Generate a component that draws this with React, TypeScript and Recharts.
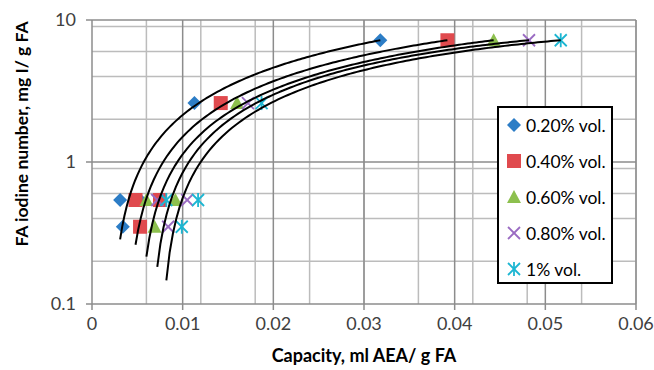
import React from 'react';
import { ScatterChart, Scatter, XAxis, YAxis, CartesianGrid } from 'recharts';

const FONT = 'Lato, "Noto Sans", sans-serif';

// iodine number of each fly ash sample, shared by all AEA doses
const iodineNumbers = [0.54, 0.54, 0.35, 2.6, 7.2];

// AEA capacity (ml AEA / g FA) of the same samples at each dose
const capacity020 = [0.0031, 0.0053, 0.0034, 0.0113, 0.0318];
const capacity040 = [0.0048, 0.0075, 0.0053, 0.0142, 0.0392];
const capacity060 = [0.006, 0.0092, 0.0069, 0.016, 0.0443];
const capacity080 = [0.0072, 0.0105, 0.0084, 0.0172, 0.0482];
const capacity100 = [0.0082, 0.0117, 0.0099, 0.0187, 0.0517];

const seriesNames = ['0.20% vol.', '0.40% vol.', '0.60% vol.', '0.80% vol.', '1% vol.'];
const seriesColors = ['#2C7DC6', '#E04A4E', '#8DC04E', '#9A6BC2', '#1CB6D2'];
const capacities = [capacity020, capacity040, capacity060, capacity080, capacity100];

const xTicks = [0, 0.01, 0.02, 0.03, 0.04, 0.05, 0.06];
const yTicks = [0.1, 1, 10];

// grid lines
const xMinorGrid = Array.from({ length: 30 }, (_, i) => +((i + 1) * 0.002).toFixed(3));
const xMajorGrid = [0.01, 0.02, 0.03, 0.04, 0.05, 0.06];
const yMinorGrid = [0.2, 0.3, 0.4, 0.5, 0.6, 0.7, 0.8, 0.9, 2, 3, 4, 5, 6, 7, 8, 9];
const yMajorGrid = [1, 10];

// least squares y = a + b*u + c*u^2 with u = x - mean(x)
function fitQuadratic(xs: number[], ys: number[]) {
  const n = xs.length;
  const mx = xs.reduce((s, v) => s + v, 0) / n;
  let s1 = 0, s2 = 0, s3 = 0, s4 = 0, t0 = 0, t1 = 0, t2 = 0;
  xs.forEach((x, i) => {
    const u = x - mx;
    s1 += u; s2 += u * u; s3 += u * u * u; s4 += u * u * u * u;
    t0 += ys[i]; t1 += u * ys[i]; t2 += u * u * ys[i];
  });
  const m = [
    [n, s1, s2],
    [s1, s2, s3],
    [s2, s3, s4],
  ];
  const det3 = (a: number[][]) =>
    a[0][0] * (a[1][1] * a[2][2] - a[1][2] * a[2][1]) -
    a[0][1] * (a[1][0] * a[2][2] - a[1][2] * a[2][0]) +
    a[0][2] * (a[1][0] * a[2][1] - a[1][1] * a[2][0]);
  const d = det3(m);
  const rhs = [t0, t1, t2];
  const col = (k: number) => m.map((row, r) => row.map((v, c) => (c === k ? rhs[r] : v)));
  const a = det3(col(0)) / d;
  const b = det3(col(1)) / d;
  const c = det3(col(2)) / d;
  return (x: number) => a + b * (x - mx) + c * (x - mx) * (x - mx);
}

const seriesData = capacities.map((xs) => xs.map((x, i) => ({ x, y: iodineNumbers[i] })));

const trendData = capacities.map((xs) => {
  const f = fitQuadratic(xs, iodineNumbers);
  const lo = Math.min(...xs);
  const hi = Math.max(...xs);
  const pts = [];
  for (let k = 0; k <= 120; k++) {
    const x = lo + ((hi - lo) * k) / 120;
    const y = f(x);
    if (y > 0.1) pts.push({ x, y });
  }
  return pts;
});

function Marker({ idx, cx, cy }: { idx: number; cx: number; cy: number }) {
  const color = seriesColors[idx];
  switch (idx) {
    case 0:
      return <polygon points={`${cx},${cy - 7} ${cx + 7},${cy} ${cx},${cy + 7} ${cx - 7},${cy}`} fill={color} />;
    case 1:
      return <rect x={cx - 7} y={cy - 7} width={14} height={14} fill={color} />;
    case 2:
      return <polygon points={`${cx},${cy - 7} ${cx + 7},${cy + 6} ${cx - 7},${cy + 6}`} fill={color} />;
    case 3:
      return (
        <g stroke={color} strokeWidth={1.8}>
          <line x1={cx - 6} y1={cy - 6} x2={cx + 6} y2={cy + 6} />
          <line x1={cx - 6} y1={cy + 6} x2={cx + 6} y2={cy - 6} />
        </g>
      );
    default:
      return (
        <g stroke={color} strokeWidth={1.8}>
          <line x1={cx - 6} y1={cy - 6} x2={cx + 6} y2={cy + 6} />
          <line x1={cx - 6} y1={cy + 6} x2={cx + 6} y2={cy - 6} />
          <line x1={cx} y1={cy - 7} x2={cx} y2={cy + 7} />
        </g>
      );
  }
}

function LegendBox() {
  return (
    <div
      style={{
        position: 'absolute',
        left: 497,
        top: 106,
        width: 112,
        height: 174,
        border: '2px solid #000',
        background: '#fff',
        fontFamily: FONT,
        fontSize: 17.5,
        color: '#000',
        boxSizing: 'content-box',
      }}
    >
      {seriesNames.map((name, i) => (
        <div key={name} style={{ position: 'absolute', left: 6, top: 6 + i * 36, height: 22, display: 'flex', alignItems: 'center' }}>
          <svg width={18} height={18} style={{ marginRight: 3 }}>
            <Marker idx={i} cx={9} cy={9} />
          </svg>
          <span>{name}</span>
        </div>
      ))}
    </div>
  );
}

export default function App() {
  const tickStyle = { fill: '#404040', fontSize: 18, fontFamily: FONT };
  return (
    <div style={{ position: 'absolute', left: 0, top: 0, width: 654, height: 370, background: '#fff' }}>
      <ScatterChart width={654} height={370} margin={{ top: 20, right: 18, bottom: 0, left: 0 }}>
        <CartesianGrid horizontalValues={yMinorGrid} verticalValues={xMinorGrid} stroke="#bcbcbc" strokeWidth={1.5} />
        <CartesianGrid horizontalValues={yMajorGrid} verticalValues={xMajorGrid} stroke="#8c8c8c" strokeWidth={1.5} />
        <XAxis
          type="number"
          dataKey="x"
          domain={[0, 0.06]}
          ticks={xTicks}
          tickFormatter={(v) => String(v)}
          height={66}
          tickSize={6}
          tickMargin={7}
          tick={tickStyle}
          axisLine={{ stroke: '#8c8c8c', strokeWidth: 1.5 }}
          tickLine={{ stroke: '#8c8c8c', strokeWidth: 1.5 }}
          allowDataOverflow
        />
        <YAxis
          type="number"
          dataKey="y"
          scale="log"
          domain={[0.1, 10]}
          ticks={yTicks}
          tickFormatter={(v) => String(v)}
          width={92}
          tickSize={6}
          tickMargin={10}
          tick={tickStyle}
          axisLine={{ stroke: '#8c8c8c', strokeWidth: 1.5 }}
          tickLine={{ stroke: '#8c8c8c', strokeWidth: 1.5 }}
          allowDataOverflow
        />
        {seriesData.map((d, i) => (
          <Scatter
            key={seriesNames[i]}
            name={seriesNames[i]}
            data={d}
            isAnimationActive={false}
            shape={(p: any) => <Marker idx={i} cx={p.cx} cy={p.cy} />}
          />
        ))}
        {trendData.map((d, i) => (
          <Scatter
            key={`trend-${i}`}
            data={d}
            isAnimationActive={false}
            line={{ stroke: '#000', strokeWidth: 2 }}
            lineType="joint"
            shape={() => <g />}
            legendType="none"
          />
        ))}
        <text x={364} y={362} textAnchor="middle" fontFamily={FONT} fontWeight="bold" fontSize={18} fill="#000">
          Capacity, ml AEA/ g FA
        </text>
        <text
          x={21}
          y={134}
          transform="rotate(-90 21 134)"
          textAnchor="middle"
          dominantBaseline="central"
          fontFamily={FONT}
          fontWeight="bold"
          fontSize={17.5}
          fill="#000"
        >
          FA iodine number, mg I/ g FA
        </text>
      </ScatterChart>
      <LegendBox />
    </div>
  );
}
